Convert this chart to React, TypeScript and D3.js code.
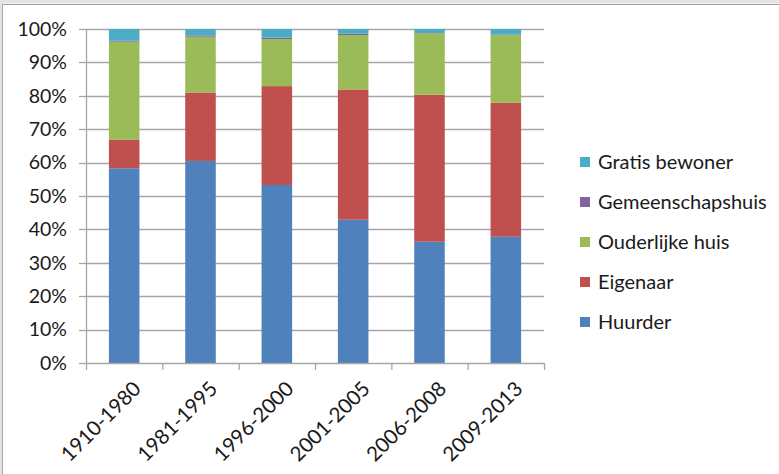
import React from "react";
import * as d3 from "d3";

const categories = ["1910-1980", "1981-1995", "1996-2000", "2001-2005", "2006-2008", "2009-2013"];
const seriesNames = ["Huurder", "Eigenaar", "Ouderlijke huis", "Gemeenschapshuis", "Gratis bewoner"];
const huurder = [58.3, 60.5, 53.3, 42.9, 36.3, 37.8];
const eigenaar = [8.5, 20.5, 29.6, 39.0, 44.0, 40.1];
const ouderlijk = [29.4, 16.7, 14.1, 16.3, 18.4, 20.3];
const gemeenschap = [0.3, 0.4, 0.4, 0.4, 0.1, 0.1];
const gratis = [3.5, 1.9, 2.6, 1.4, 1.2, 1.7];
const colors = ["#4F81BD", "#C0504D", "#9BBB59", "#8064A2", "#4BACC6"];
const yTicks = [0, 0.1, 0.2, 0.3, 0.4, 0.5, 0.6, 0.7, 0.8, 0.9, 1];

const W = 779;
const H = 474;
const FONT = "Lato, 'Open Sans', sans-serif";

export default function App() {
  const series = [huurder, eigenaar, ouderlijk, gemeenschap, gratis];
  const rows = categories.map((c, i) => {
    const row: any = { cat: c };
    seriesNames.forEach((s, k) => (row[s] = series[k][i]));
    return row;
  });
  const stacked = d3.stack<any>().keys(seriesNames).offset(d3.stackOffsetExpand)(rows);

  const left = 86, right = 544, top = 29, bottom = 363;
  const x = d3.scaleBand<string>().domain(categories).range([left, right]).paddingInner(0.6).paddingOuter(0.3);
  const xb = d3.scaleBand<string>().domain(categories).range([left, right]);
  const y = d3.scaleLinear().domain([0, 1]).range([bottom, top]);
  const pct = d3.format(".0%");

  const legendOrder = [4, 3, 2, 1, 0];

  return (
    <svg width={W} height={H} style={{ position: "absolute", left: 0, top: 0, background: "#fff" }}>
      <rect x={0} y={0} width={W} height={H} fill="#fff" />
      <rect x={0} y={0} width={W} height={3.5} fill="#e3e3e3" />
      <line x1={0} x2={W} y1={4.5} y2={4.5} stroke="#a0a0a0" strokeWidth={1} />
      <rect x={0} y={0} width={2} height={H} fill="#e3e3e3" />
      <line x1={2.5} x2={2.5} y1={4} y2={H} stroke="#a8a8a8" strokeWidth={1} />

      {yTicks.map((t) => (
        <g key={t}>
          {t > 0 && (
            <line x1={left} x2={right} y1={Math.round(y(t)) + 0.5} y2={Math.round(y(t)) + 0.5} stroke="#a6a6a6" strokeWidth={1.3} />
          )}
          <line x1={left - 7} x2={left} y1={Math.round(y(t)) + 0.5} y2={Math.round(y(t)) + 0.5} stroke="#a6a6a6" strokeWidth={1.3} />
          <text x={67} y={y(t)} dy="0.35em" textAnchor="end" fontFamily={FONT} fontSize={19.5} fill="#1a1a1a">
            {pct(t)}
          </text>
        </g>
      ))}
      <line x1={left + 0.5} x2={left + 0.5} y1={top} y2={bottom} stroke="#a6a6a6" strokeWidth={1.3} />

      {stacked.map((layer, k) => (
        <g key={layer.key} fill={colors[k]}>
          {layer.map((d, i) => (
            <rect key={i} x={x(categories[i])} width={x.bandwidth()} y={y(d[1])} height={Math.max(0, y(d[0]) - y(d[1]))} />
          ))}
        </g>
      ))}

      <line x1={left} x2={right} y1={bottom + 0.5} y2={bottom + 0.5} stroke="#a6a6a6" strokeWidth={1.3} />
      {categories.concat(["__end"]).map((c, i) => {
        const xx = i < categories.length ? (xb(c) as number) : right;
        return <line key={c} x1={xx + 0.5} x2={xx + 0.5} y1={bottom} y2={bottom + 7} stroke="#a6a6a6" strokeWidth={1.3} />;
      })}
      {categories.map((c) => {
        const cx = (x(c) as number) + x.bandwidth() / 2;
        return (
          <text key={c} transform={`translate(${cx + 13},${bottom + 22}) rotate(-45)`} textAnchor="end" dy="0.35em" fontFamily={FONT} fontSize={20.5} fill="#1a1a1a">
            {c}
          </text>
        );
      })}

      {legendOrder.map((k, j) => {
        const cy = 162 + j * 40;
        return (
          <g key={k}>
            <rect x={580} y={cy - 5} width={10} height={10} fill={colors[k]} />
            <text x={598} y={cy} dy="0.35em" fontFamily={FONT} fontSize={20} fill="#1a1a1a">
              {seriesNames[k]}
            </text>
          </g>
        );
      })}
    </svg>
  );
}
